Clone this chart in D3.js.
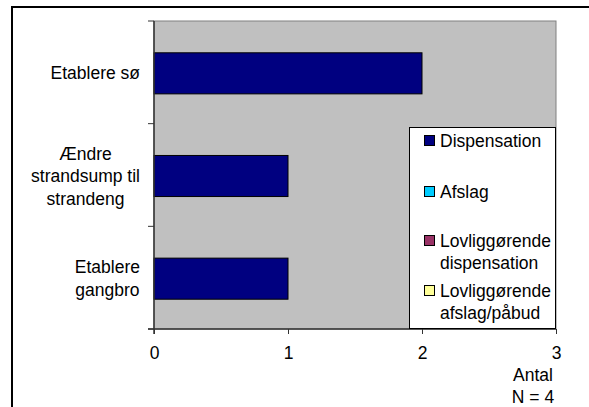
<!DOCTYPE html>
<html>
<head>
<meta charset="utf-8">
<script src="https://cdn.jsdelivr.net/npm/d3@7"></script>
<style>
  html, body { margin: 0; padding: 0; background: #fff; overflow: hidden; }
  svg { display: block; }
  text { font-family: "Liberation Sans", Arial, sans-serif; font-size: 17.5px; fill: #000; }
</style>
</head>
<body>
<svg id="chart" width="589" height="407"></svg>
<script>
// categories (top to bottom) and series values
var categories = [["Etablere sø"], ["Ændre", "strandsump til", "strandeng"], ["Etablere", "gangbro"]];
var seriesNames = ["Dispensation", "Afslag", "Lovliggørende dispensation", "Lovliggørende afslag/påbud"];
var legendLines = [["Dispensation"], ["Afslag"], ["Lovliggørende", "dispensation"], ["Lovliggørende", "afslag/påbud"]];
var seriesColors = ["#000080", "#00ccff", "#993366", "#ffff99"];
var dispensation = [2, 1, 1];
var afslag = [0, 0, 0];
var lovDispensation = [0, 0, 0];
var lovAfslag = [0, 0, 0];
var xTicks = [0, 1, 2, 3];

var svg = d3.select("#chart");

// outer frame: only top and left edges are inside the picture
svg.append("path")
    .attr("d", "M12,407V7H589")
    .attr("fill", "none")
    .attr("stroke", "#000")
    .attr("stroke-width", 2);

var plot = {left: 154, right: 556, top: 21, bottom: 329};

var x = d3.scaleLinear().domain([0, 3]).range([plot.left, plot.right]);
var keys = categories.map(function(c){ return c.join(" "); });
var y = d3.scaleBand().domain(keys).range([plot.top, plot.bottom])
    .paddingInner(0.6).paddingOuter(0.3);

// plot area
svg.append("rect")
    .attr("x", plot.left).attr("y", plot.top)
    .attr("width", plot.right - plot.left).attr("height", plot.bottom - plot.top)
    .attr("fill", "#c0c0c0")
    .attr("stroke", "#808080")
    .attr("stroke-width", 1);

// stacked bars
var table = keys.map(function(k, i){
    return {cat: k, s0: dispensation[i], s1: afslag[i], s2: lovDispensation[i], s3: lovAfslag[i]};
});
var stack = d3.stack().keys(["s0", "s1", "s2", "s3"])(table);

svg.append("g").selectAll("g")
    .data(stack)
    .enter().append("g")
    .attr("fill", function(d, i){ return seriesColors[i]; })
    .selectAll("rect")
    .data(function(d){ return d.filter(function(p){ return p[1] > p[0]; }); })
    .enter().append("rect")
    .attr("x", function(d){ return x(d[0]); })
    .attr("y", function(d){ return y(d.data.cat) + 1; })
    .attr("width", function(d){ return x(d[1]) - x(d[0]); })
    .attr("height", y.bandwidth())
    .attr("stroke", "#000")
    .attr("stroke-width", 1);

// x axis
var xAxis = svg.append("g")
    .attr("transform", "translate(0," + plot.bottom + ")")
    .call(d3.axisBottom(x).tickValues(xTicks).tickFormat(d3.format("d")).tickSizeInner(5).tickSizeOuter(0));
xAxis.select(".domain").attr("stroke", "#333").attr("stroke-width", 1.5).attr("d", "M" + (plot.left - 6) + ",0H" + plot.right);
xAxis.selectAll(".tick line").attr("stroke", "#333");
xAxis.selectAll(".tick text")
    .attr("y", 18)
    .style("font-family", "Liberation Sans, Arial, sans-serif")
    .style("font-size", "17.5px")
    .attr("fill", "#000");

// y axis line and ticks between categories
var yAxis = svg.append("g");
yAxis.append("line")
    .attr("x1", plot.left).attr("x2", plot.left)
    .attr("y1", plot.top).attr("y2", plot.bottom + 5)
    .attr("stroke", "#333").attr("stroke-width", 1.5);
var bounds = d3.range(keys.length + 1).map(function(i){ return plot.top + (plot.bottom - plot.top) * i / keys.length; });
yAxis.selectAll("line.tk")
    .data(bounds)
    .enter().append("line")
    .attr("class", "tk")
    .attr("x1", plot.left - 6).attr("x2", plot.left)
    .attr("y1", function(d){ return d; }).attr("y2", function(d){ return d; })
    .attr("stroke", "#333");

// category labels: centered lines, block right aligned
var lineH = 22.5;
categories.forEach(function(lines, i){
    var cy = y(keys[i]) + y.bandwidth() / 2 + 1;
    var g = svg.append("g");
    var texts = g.selectAll("text").data(lines).enter().append("text")
        .attr("text-anchor", "middle")
        .attr("y", function(d, j){ return cy + (j - (lines.length - 1) / 2) * lineH + 6; })
        .text(function(d){ return d; });
    var maxW = 0;
    texts.each(function(){ maxW = Math.max(maxW, this.getComputedTextLength()); });
    texts.attr("x", 140 - maxW / 2);
});

// legend
var legend = svg.append("g");
legend.append("rect")
    .attr("x", 409.5).attr("y", 127.5)
    .attr("width", 146).attr("height", 201)
    .attr("fill", "#fff")
    .attr("stroke", "#000").attr("stroke-width", 1);
var legendY = [141, 192, 241, 291];
legendLines.forEach(function(lines, i){
    legend.append("rect")
        .attr("x", 424.5).attr("y", legendY[i] - 5.5)
        .attr("width", 10).attr("height", 10)
        .attr("fill", seriesColors[i])
        .attr("stroke", "#000").attr("stroke-width", 1);
    lines.forEach(function(t, j){
        legend.append("text")
            .attr("x", 440)
            .attr("y", legendY[i] + j * 21.5 + 6)
            .text(t);
    });
});

// axis title
svg.append("text").attr("x", 533).attr("y", 381).attr("text-anchor", "middle").text("Antal");
svg.append("text").attr("x", 533).attr("y", 403).attr("text-anchor", "middle").text("N = 4");
</script>
</body>
</html>
